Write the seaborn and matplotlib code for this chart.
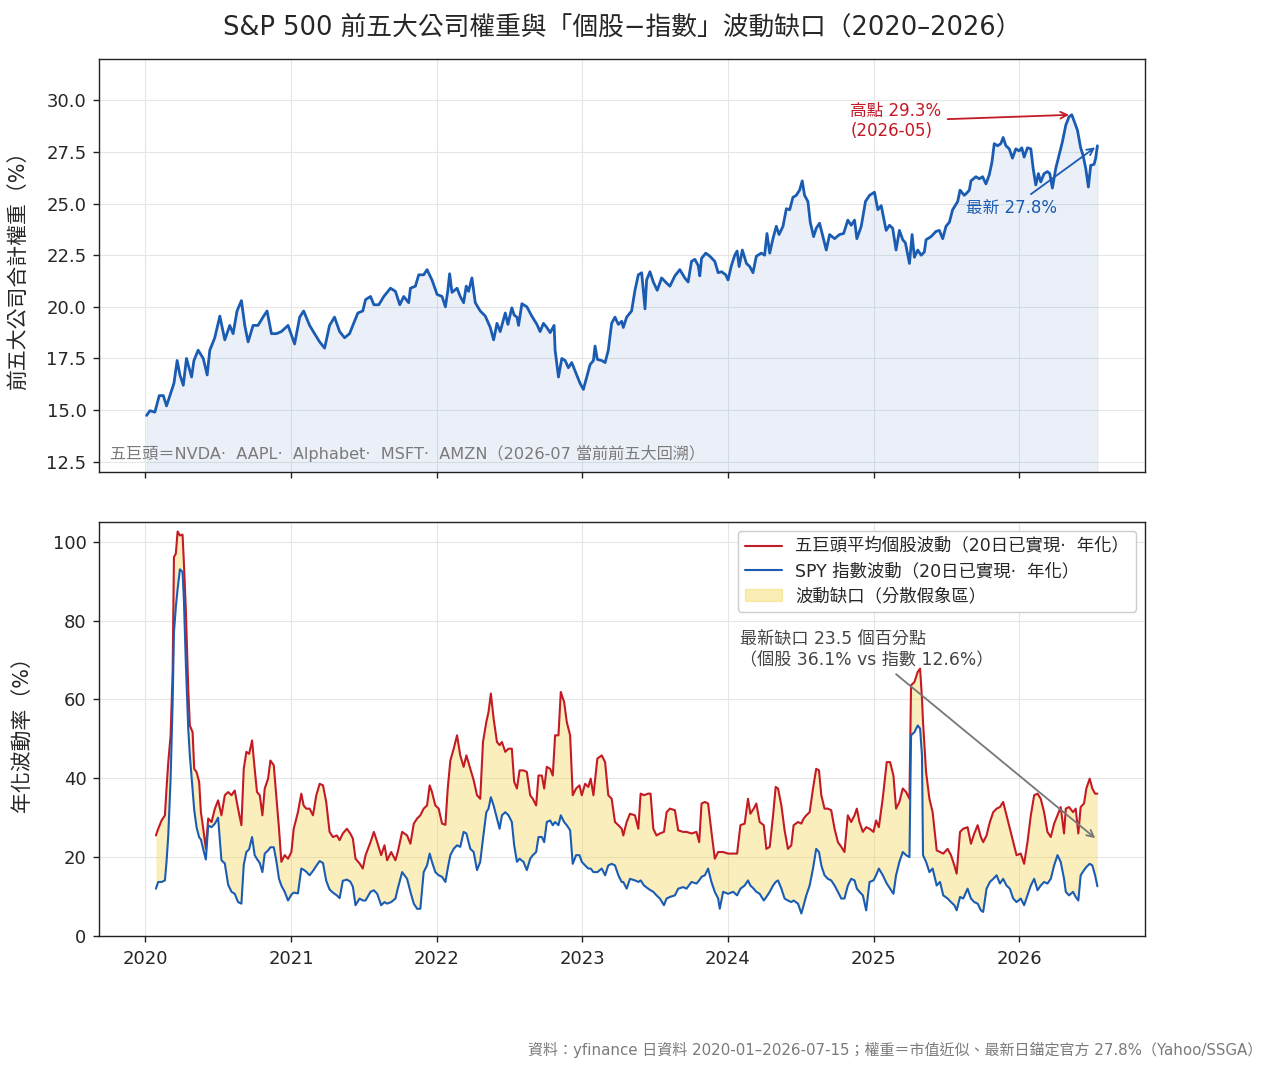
import numpy as np
import pandas as pd
import matplotlib
matplotlib.use("Agg")
import matplotlib.pyplot as plt
import matplotlib.dates as mdates
from matplotlib.lines import Line2D
from matplotlib.patches import Patch
from matplotlib.ticker import FormatStrFormatter
import seaborn as sns

# ---------------- data ----------------
weight_year = [
    2020.011, 2020.034, 2020.068, 2020.098, 2020.126, 2020.148, 2020.176, 2020.199, 2020.221, 2020.240,
    2020.263, 2020.285, 2020.320, 2020.336, 2020.365, 2020.400, 2020.427, 2020.445, 2020.479, 2020.514,
    2020.548, 2020.582, 2020.605, 2020.632, 2020.662, 2020.685, 2020.708, 2020.742, 2020.776, 2020.810,
    2020.838, 2020.868, 2020.902, 2020.936, 2020.982, 2021.027, 2021.062, 2021.089, 2021.130, 2021.164,
    2021.199, 2021.233, 2021.267, 2021.301, 2021.336, 2021.370, 2021.404, 2021.438, 2021.461, 2021.495,
    2021.514, 2021.548, 2021.571, 2021.605, 2021.639, 2021.685, 2021.719, 2021.749, 2021.776, 2021.810,
    2021.822, 2021.856, 2021.879, 2021.913, 2021.936, 2021.970, 2022.005, 2022.039, 2022.062, 2022.078,
    2022.091, 2022.107, 2022.142, 2022.164, 2022.187, 2022.205, 2022.221, 2022.244, 2022.267, 2022.301,
    2022.336, 2022.370, 2022.393, 2022.416, 2022.438, 2022.473, 2022.491, 2022.518, 2022.534, 2022.553,
    2022.564, 2022.587, 2022.621, 2022.655, 2022.690, 2022.712, 2022.735, 2022.758, 2022.781, 2022.808,
    2022.815, 2022.838, 2022.861, 2022.884, 2022.906, 2022.929, 2022.963, 2022.986, 2023.009, 2023.032,
    2023.055, 2023.078, 2023.089, 2023.105, 2023.135, 2023.158, 2023.180, 2023.203, 2023.226, 2023.249,
    2023.272,
    2023.283, 2023.306, 2023.340, 2023.363, 2023.386, 2023.409, 2023.432, 2023.443, 2023.466, 2023.489,
    2023.516, 2023.546, 2023.580, 2023.603, 2023.637, 2023.671, 2023.705, 2023.728, 2023.751, 2023.774,
    2023.797, 2023.808, 2023.820, 2023.849, 2023.877, 2023.911, 2023.934, 2023.957, 2023.986, 2024.002,
    2024.025, 2024.048, 2024.064, 2024.078, 2024.100, 2024.128, 2024.151, 2024.173, 2024.196, 2024.231,
    2024.253, 2024.269, 2024.288, 2024.310, 2024.333, 2024.352, 2024.379, 2024.402, 2024.425, 2024.447,
    2024.470, 2024.493, 2024.511, 2024.527, 2024.550, 2024.566, 2024.589, 2024.607, 2024.630, 2024.653,
    2024.676, 2024.699, 2024.733, 2024.767, 2024.795, 2024.824, 2024.847, 2024.870, 2024.886, 2024.916,
    2024.945, 2024.973, 2025.007, 2025.030, 2025.053,
    2025.087, 2025.110, 2025.132, 2025.155, 2025.178, 2025.201, 2025.219, 2025.247, 2025.265, 2025.281,
    2025.304, 2025.327, 2025.349, 2025.361, 2025.395, 2025.429, 2025.452, 2025.475, 2025.498, 2025.521,
    2025.543, 2025.578, 2025.594, 2025.623, 2025.639, 2025.658, 2025.669, 2025.703, 2025.726, 2025.749,
    2025.772, 2025.795, 2025.813, 2025.829, 2025.852, 2025.874, 2025.890, 2025.909, 2025.932, 2025.954,
    2025.977, 2026.000, 2026.018, 2026.034, 2026.057, 2026.080, 2026.096, 2026.114, 2026.132, 2026.148,
    2026.171, 2026.194, 2026.210, 2026.228, 2026.251, 2026.274, 2026.297, 2026.320, 2026.342, 2026.361,
    2026.377, 2026.400, 2026.422, 2026.438, 2026.457, 2026.475, 2026.491, 2026.514, 2026.525, 2026.537,
]
weight_pct = [
    14.74, 14.97, 14.9, 15.7, 15.7, 15.2, 15.8, 16.3, 17.4, 16.7,
    16.2, 17.5, 16.6, 17.4, 17.9, 17.5, 16.7, 17.9, 18.5, 19.55,
    18.4, 19.1, 18.7, 19.8, 20.3, 19.1, 18.3, 19.1, 19.1, 19.5,
    19.8, 18.7, 18.7, 18.8, 19.1, 18.2, 19.5, 19.8, 19.1, 18.7,
    18.3, 18.0, 19.1, 19.5, 18.8, 18.5, 18.7, 19.3, 19.7, 19.8,
    20.35, 20.5, 20.1, 20.1, 20.5, 20.9, 20.75, 20.1, 20.5, 20.2,
    20.9, 21.0, 21.55, 21.55, 21.8, 21.3, 20.6, 20.5, 20.0, 20.75,
    21.6, 20.7, 20.9, 20.5, 20.2, 21.0, 20.75, 21.4, 20.2, 19.8,
    19.55, 19.0, 18.4, 19.2, 18.8, 19.7, 19.15, 19.95, 19.6, 19.5,
    19.1, 20.15, 20.0, 19.55, 19.15, 18.8, 19.2, 19.0, 18.75, 19.1,
    17.9, 16.6, 17.5, 17.4, 17.05, 17.3, 16.7, 16.3, 16.0, 16.6,
    17.2, 17.4, 18.1, 17.45, 17.4, 17.3, 17.9, 19.2, 19.5, 19.15,
    19.3,
    19.0, 19.5, 19.8, 20.8, 21.55, 21.65, 19.9, 21.3, 21.7, 21.2,
    20.8, 21.4, 21.15, 21.0, 21.5, 21.8, 21.4, 21.2, 22.2, 22.3,
    22.0, 21.5, 22.35, 22.6, 22.45, 22.2, 21.65, 21.7, 21.55, 21.3,
    22.0, 22.5, 22.7, 21.95, 22.75, 22.1, 21.95, 21.65, 22.45, 22.6,
    22.5, 23.55, 22.6, 23.3, 23.9, 23.5, 23.9, 24.75, 24.7, 25.3,
    25.4, 25.65, 26.1, 25.4, 25.1, 24.1, 23.4, 23.8, 24.05, 23.4,
    22.75, 23.5, 23.3, 23.5, 23.55, 24.2, 23.95, 24.2, 23.3, 23.9,
    25.1, 25.4, 25.55, 24.7, 24.9,
    23.7, 23.95, 23.8, 22.75, 23.7, 23.25, 23.1, 22.1, 23.5, 22.4,
    22.75, 22.5, 22.65, 23.25, 23.4, 23.65, 23.7, 23.3, 23.9, 24.1,
    24.7, 25.1, 25.65, 25.4, 25.5, 25.65, 26.1, 26.3, 26.2, 26.3,
    25.95, 26.4, 27.0, 27.9, 27.8, 27.9, 28.2, 27.8, 27.65, 27.2,
    27.65, 27.55, 27.7, 27.25, 27.7, 27.65, 26.7, 25.9, 26.45, 26.05,
    26.45, 26.55, 26.45, 25.75, 26.7, 27.35, 28.0, 28.8, 29.2, 29.3,
    29.0, 28.55, 27.7, 27.35, 26.7, 25.8, 26.85, 26.9, 27.2, 27.8,
]

vol_year = [
    2020.075, 2020.091, 2020.114, 2020.137, 2020.148, 2020.160, 2020.176, 2020.190, 2020.199, 2020.212,
    2020.224, 2020.240, 2020.258, 2020.267, 2020.281, 2020.297, 2020.308, 2020.327, 2020.338, 2020.354,
    2020.372, 2020.384, 2020.400, 2020.418, 2020.434, 2020.457, 2020.480, 2020.502, 2020.525, 2020.548,
    2020.571, 2020.594, 2020.616, 2020.639, 2020.662, 2020.678, 2020.696, 2020.715, 2020.735, 2020.753,
    2020.769, 2020.788, 2020.806, 2020.822, 2020.845, 2020.861, 2020.884, 2020.902, 2020.920, 2020.936,
    2020.959, 2020.982, 2021.005, 2021.021, 2021.050, 2021.073, 2021.089, 2021.107, 2021.130, 2021.153,
    2021.176, 2021.199, 2021.222, 2021.244, 2021.267, 2021.290, 2021.317, 2021.336, 2021.358, 2021.386,
    2021.409, 2021.427, 2021.445, 2021.473, 2021.495,
    2021.514, 2021.548, 2021.571, 2021.594, 2021.621, 2021.644, 2021.662, 2021.690, 2021.719, 2021.735,
    2021.765, 2021.799, 2021.822, 2021.845, 2021.868, 2021.890, 2021.913, 2021.936, 2021.954, 2021.970,
    2021.993, 2022.016, 2022.039, 2022.062, 2022.078, 2022.096, 2022.119, 2022.142, 2022.164, 2022.187,
    2022.206, 2022.233, 2022.256, 2022.279, 2022.301, 2022.320, 2022.343, 2022.358, 2022.374, 2022.393,
    2022.416, 2022.434, 2022.450, 2022.473, 2022.495, 2022.518, 2022.534, 2022.553, 2022.571, 2022.598,
    2022.621, 2022.644, 2022.662, 2022.685, 2022.701, 2022.724, 2022.740, 2022.758, 2022.781, 2022.799,
    2022.815, 2022.838, 2022.854, 2022.877, 2022.895, 2022.918, 2022.936, 2022.959, 2022.982, 2022.998,
    2023.021, 2023.043, 2023.059, 2023.078, 2023.105, 2023.135, 2023.158, 2023.180, 2023.203, 2023.226,
    2023.249, 2023.272,
    2023.283, 2023.306, 2023.329, 2023.363, 2023.386, 2023.402, 2023.425, 2023.454, 2023.470, 2023.489,
    2023.511, 2023.534, 2023.562, 2023.580, 2023.603, 2023.637, 2023.660, 2023.694, 2023.717, 2023.751,
    2023.785, 2023.804, 2023.820, 2023.843, 2023.865, 2023.888, 2023.911, 2023.934, 2023.945, 2023.968,
    2024.002, 2024.037, 2024.064, 2024.087, 2024.116, 2024.139, 2024.155, 2024.178, 2024.196, 2024.219,
    2024.247, 2024.265, 2024.288, 2024.311, 2024.329, 2024.345, 2024.368, 2024.390, 2024.413, 2024.436,
    2024.452, 2024.482, 2024.505, 2024.521, 2024.539, 2024.562, 2024.585, 2024.607, 2024.626, 2024.642,
    2024.664, 2024.687, 2024.710, 2024.733, 2024.756, 2024.779, 2024.801, 2024.824, 2024.847, 2024.870,
    2024.886, 2024.904, 2024.927, 2024.950, 2024.973, 2025.000, 2025.018, 2025.037,
    2025.064, 2025.091, 2025.114, 2025.137, 2025.155, 2025.178, 2025.201, 2025.224, 2025.247, 2025.258,
    2025.281, 2025.304, 2025.320, 2025.333, 2025.340, 2025.361, 2025.384, 2025.406, 2025.434, 2025.457,
    2025.479, 2025.509, 2025.532, 2025.555, 2025.571, 2025.594, 2025.616, 2025.646, 2025.669, 2025.692,
    2025.715, 2025.737, 2025.753, 2025.776, 2025.799, 2025.822, 2025.845, 2025.868, 2025.890, 2025.913,
    2025.936, 2025.959, 2025.982, 2026.011, 2026.034, 2026.057, 2026.080, 2026.103, 2026.126, 2026.148,
    2026.171, 2026.194, 2026.217, 2026.240, 2026.263, 2026.285, 2026.308, 2026.320, 2026.342, 2026.370,
    2026.388, 2026.406, 2026.422, 2026.445, 2026.461, 2026.484, 2026.502, 2026.521, 2026.537,
]
vol_stock = [
    25.5, 27.2, 29.3, 30.6, 37.4, 44.1, 50.9, 66.9, 96.1, 97.0,
    102.6, 101.6, 101.8, 94.8, 82.2, 62.7, 53.4, 51.7, 42.4, 41.6,
    39.1, 31.4, 27.2, 22.1, 29.8, 28.9, 32.3, 34.4, 30.6, 35.7,
    36.5, 35.7, 36.9, 32.3, 28.1, 42.4, 46.7, 46.2, 49.6, 42.4,
    36.5, 35.7, 30.6, 37.4, 39.9, 44.5, 43.3, 35.2, 27.2, 18.8,
    20.5, 19.6, 21.3, 27.2, 31.4, 36.1, 33.1, 32.3, 32.3, 30.6,
    35.7, 38.6, 38.2, 34.0, 26.4, 25.1, 25.5, 24.3, 26.0, 27.2,
    26.0, 24.7, 19.6, 18.4, 17.1,
    20.5, 23.8, 26.4, 23.8, 20.5, 23.0, 19.2, 21.3, 19.2, 21.3,
    26.4, 25.5, 23.4, 28.5, 29.8, 30.6, 32.3, 33.1, 38.2, 36.5,
    33.1, 32.3, 28.5, 28.2, 37.4, 44.5, 47.5, 50.9, 45.8, 42.9,
    45.8, 42.4, 39.5, 35.7, 34.8, 49.2, 54.3, 56.8, 61.5, 55.1,
    49.2, 48.4, 49.2, 46.7, 47.5, 47.5, 39.1, 37.4, 42.0, 42.0,
    41.6, 35.7, 34.8, 33.1, 40.7, 40.7, 37.4, 42.9, 42.4, 40.7,
    50.9, 50.9, 61.9, 59.3, 54.3, 50.9, 35.7, 37.4, 38.2, 35.7,
    38.6, 37.8, 39.9, 35.7, 45.0, 45.8, 44.1, 35.7, 34.8, 28.9,
    28.1, 27.2,
    25.5, 28.9, 31.0, 30.6, 27.2, 36.1, 35.7, 36.1, 36.1, 27.2,
    25.5, 26.0, 26.4, 31.4, 32.3, 31.9, 26.8, 26.4, 26.4, 26.0,
    26.4, 23.8, 33.6, 34.0, 33.6, 26.4, 19.6, 21.3, 21.3, 21.3,
    20.9, 20.9, 20.9, 28.1, 28.5, 34.8, 31.0, 32.3, 33.6, 28.9,
    28.1, 22.1, 22.6, 30.6, 37.8, 37.4, 33.1, 26.8, 22.1, 23.0,
    28.1, 28.9, 28.5, 29.8, 30.6, 31.4, 37.4, 42.4, 42.0, 35.7,
    32.3, 32.3, 31.9, 27.2, 23.8, 22.6, 21.3, 30.6, 28.9, 30.6,
    32.3, 28.9, 26.4, 27.6, 27.2, 26.4, 29.3, 27.6,
    35.0, 44.1, 44.1, 40.7, 32.3, 34.0, 37.4, 36.5, 34.8, 63.6,
    64.4, 67.0, 67.8, 60.2, 54.3, 41.6, 34.8, 31.4, 21.7, 21.3,
    20.9, 22.1, 20.5, 17.9, 15.8, 26.4, 27.2, 27.6, 23.4, 26.0,
    28.1, 25.1, 23.8, 25.5, 28.9, 31.4, 32.3, 32.7, 34.0, 30.6,
    27.2, 23.8, 20.5, 20.9, 18.3, 23.8, 30.6, 35.7, 36.1, 34.8,
    31.4, 26.4, 25.1, 28.5, 30.6, 32.7, 26.0, 32.3, 32.7, 31.4,
    32.3, 26.0, 32.7, 33.6, 37.4, 39.9, 37.4, 36.1, 36.1,
]
vol_index = [
    12.0, 13.7, 13.7, 14.1, 18.8, 25.5, 39.9, 59.3, 77.0, 83.5,
    88.0, 93.0, 92.3, 85.5, 68.6, 52.6, 45.8, 36.9, 32.0, 27.6,
    25.0, 24.5, 22.0, 19.4, 28.0, 27.6, 28.5, 30.0, 19.2, 18.4,
    13.0, 11.2, 10.7, 8.6, 8.2, 18.0, 21.3, 22.0, 25.1, 20.5,
    19.5, 18.5, 16.2, 20.9, 21.7, 22.5, 22.5, 19.0, 14.5, 12.8,
    11.2, 9.0, 10.5, 11.0, 10.8, 17.1, 16.8, 16.3, 15.4, 16.5,
    17.8, 19.0, 18.5, 14.0, 11.8, 11.0, 10.3, 9.6, 14.0, 14.3,
    13.8, 12.5, 7.8, 9.5, 9.0,
    9.0, 11.2, 11.6, 10.7, 7.8, 8.6, 8.2, 8.6, 9.5, 12.0,
    16.2, 14.5, 11.2, 8.2, 6.9, 6.9, 16.2, 17.9, 20.9, 18.8,
    16.2, 15.4, 15.0, 13.7, 17.1, 20.5, 22.1, 23.0, 22.6, 26.4,
    26.0, 22.1, 21.3, 16.7, 18.8, 24.7, 31.4, 32.3, 35.2, 33.1,
    29.8, 27.2, 30.6, 31.4, 30.6, 28.9, 23.0, 18.8, 19.6, 18.8,
    16.7, 19.6, 20.5, 21.3, 25.1, 25.1, 23.8, 28.9, 29.3, 28.1,
    28.9, 28.1, 30.6, 28.9, 28.1, 26.8, 18.3, 20.5, 20.5, 18.8,
    17.9, 17.1, 17.1, 16.2, 16.2, 17.1, 15.4, 17.9, 18.3, 17.9,
    15.4, 13.7,
    13.7, 12.0, 14.5, 14.1, 13.7, 14.1, 12.8, 12.0, 11.6, 11.2,
    10.3, 9.5, 7.8, 9.5, 9.9, 10.3, 12.0, 12.4, 12.0, 13.7,
    13.3, 14.1, 15.0, 15.4, 17.1, 13.7, 11.2, 9.5, 6.9, 11.2,
    10.7, 11.2, 10.3, 12.0, 12.8, 14.1, 12.8, 12.0, 11.2, 10.7,
    9.0, 9.9, 11.2, 12.8, 13.7, 14.1, 12.0, 9.5, 9.0, 8.6,
    9.0, 8.2, 5.7, 7.8, 10.3, 12.8, 17.1, 22.1, 21.3, 17.9,
    15.4, 14.5, 14.1, 12.8, 11.2, 9.5, 9.5, 12.8, 14.5, 14.1,
    12.0, 11.2, 10.3, 6.5, 13.7, 14.1, 15.4, 17.1,
    15.4, 13.3, 12.0, 10.7, 15.4, 18.8, 21.3, 20.5, 20.0, 50.9,
    51.7, 53.4, 52.6, 45.8, 20.5, 18.8, 16.2, 17.1, 12.8, 13.7,
    10.3, 9.5, 8.6, 7.8, 6.5, 9.9, 9.5, 12.0, 9.5, 8.6,
    8.2, 6.5, 6.1, 12.0, 13.7, 14.5, 15.4, 13.3, 14.5, 12.8,
    12.0, 9.5, 8.6, 9.5, 7.8, 10.3, 12.8, 14.5, 11.6, 12.8,
    13.7, 13.3, 14.5, 17.9, 20.5, 18.8, 14.5, 11.2, 10.3, 11.2,
    9.9, 9.0, 15.4, 16.7, 17.5, 18.3, 17.9, 15.4, 12.6,
]

title_text = "S&P 500 前五大公司權重與「個股−指數」波動缺口（2020–2026）"
note_text = "五巨頭＝NVDA·  AAPL·  Alphabet·  MSFT·  AMZN（2026-07 當前前五大回溯）"
footer_text = "資料：yfinance 日資料 2020-01–2026-07-15；權重＝市值近似、最新日錨定官方 27.8%（Yahoo/SSGA）"
legend_labels = ["五巨頭平均個股波動（20日已實現·  年化）",
                 "SPY 指數波動（20日已實現·  年化）",
                 "波動缺口（分散假象區）"]


def to_dates(years):
    y = np.asarray(years, dtype=float)
    return pd.Timestamp("2020-01-01") + pd.to_timedelta((y - 2020.0) * 365.25, unit="D")


wdf = pd.DataFrame({"date": to_dates(weight_year), "weight": weight_pct})
vdf = pd.DataFrame({"date": to_dates(vol_year), "stock": vol_stock, "index": vol_index})

# ---------------- style ----------------
sns.set_theme(style="ticks")
plt.rcParams["font.family"] = ["DejaVu Sans", "Noto Sans CJK TC"]
plt.rcParams["axes.unicode_minus"] = False

BLUE = "#1b5cb3"
RED = "#c41a25"
YELLOW = "#f2cc30"
GRID = "#e6e6e6"

fig = plt.figure(figsize=(12.81, 10.73), dpi=100)
ax1 = fig.add_axes([0.0773, 0.5601, 0.8165, 0.3849])
ax2 = fig.add_axes([0.0773, 0.1277, 0.8165, 0.3858], sharex=ax1)

# ---------------- top panel ----------------
ax1.fill_between(wdf["date"], wdf["weight"], 12.0, color=BLUE, alpha=0.085, lw=0.8, zorder=1)
sns.lineplot(data=wdf, x="date", y="weight", ax=ax1, color=BLUE, lw=2.0, zorder=3)
ax1.set_ylim(12.0, 32.0)
ax1.set_yticks(np.arange(12.5, 30.01, 2.5))
ax1.yaxis.set_major_formatter(FormatStrFormatter("%.1f"))
ax1.set_ylabel("前五大公司合計權重（%）", fontsize=15)
ax1.yaxis.set_label_coords(-0.068, 0.5)
ax1.set_xlabel("")
ax1.tick_params(labelbottom=False)

imax = int(np.argmax(weight_pct))
ax1.annotate(f"高點 {weight_pct[imax]:.1f}%\n(2026-05)",
             xy=(wdf["date"].iloc[imax], weight_pct[imax]),
             xytext=(to_dates([2024.842])[0], 29.0),
             color=RED, fontsize=12, ha="left", va="center",
             arrowprops=dict(arrowstyle="->", color=RED, lw=1.3))
ax1.annotate(f"最新 {weight_pct[-1]:.1f}%",
             xy=(wdf["date"].iloc[-1], weight_pct[-1]),
             xytext=(to_dates([2025.637])[0], 24.78),
             color=BLUE, fontsize=12, ha="left", va="center",
             arrowprops=dict(arrowstyle="->", color=BLUE, lw=1.3))
ax1.text(0.0105, 0.046, note_text, transform=ax1.transAxes, fontsize=11.6,
         color="#7a7a7a", ha="left", va="center")

# ---------------- bottom panel ----------------
ax2.fill_between(vdf["date"], vdf["stock"], vdf["index"], color=YELLOW, alpha=0.32, lw=0, zorder=1)
sns.lineplot(data=vdf, x="date", y="stock", ax=ax2, color=RED, lw=1.5, zorder=3)
sns.lineplot(data=vdf, x="date", y="index", ax=ax2, color=BLUE, lw=1.5, zorder=3)
ax2.set_ylim(0, 105)
ax2.set_yticks([0, 20, 40, 60, 80, 100])
ax2.set_ylabel("年化波動率（%）", fontsize=15)
ax2.yaxis.set_label_coords(-0.064, 0.5)
ax2.set_xlabel("")

gap = vol_stock[-1] - vol_index[-1]
ax2.annotate(f"最新缺口 {gap:.1f} 個百分點\n（個股 {vol_stock[-1]:.1f}% vs 指數 {vol_index[-1]:.1f}%）",
             xy=(vdf["date"].iloc[-1], (vol_stock[-1] + vol_index[-1]) / 2),
             xytext=(to_dates([2024.082])[0], 72.6),
             color="#444444", fontsize=12.3, ha="left", va="center",
             arrowprops=dict(arrowstyle="->", color="#777777", lw=1.3))

handles = [
    Line2D([0], [0], color=RED, lw=1.5),
    Line2D([0], [0], color=BLUE, lw=1.5),
    Patch(facecolor=YELLOW, alpha=0.35, edgecolor=YELLOW),
]
ax2.legend(handles, legend_labels, loc="upper right", fontsize=12.5, frameon=True,
           fancybox=True, framealpha=1.0, edgecolor="#cccccc",
           handlelength=2.1, labelspacing=0.38)

# ---------------- shared axis cosmetics ----------------
for ax in (ax1, ax2):
    ax.grid(True, color=GRID, lw=0.8)
    ax.set_axisbelow(True)
    ax.tick_params(labelsize=13, length=4, width=1, color="#222222")
    ax.tick_params(axis="y", pad=5)
    ax.tick_params(axis="x", pad=6)
    for s in ax.spines.values():
        s.set_color("#222222")
        s.set_linewidth(1.0)

ax2.xaxis.set_major_locator(mdates.YearLocator())
ax2.xaxis.set_major_formatter(mdates.DateFormatter("%Y"))

fig.text(0.4856, 0.9748, title_text, ha="center", va="center", fontsize=18.5)
fig.text(0.985, 0.0214, footer_text, ha="right", va="center", fontsize=10.8, color="#7a7a7a")

fig.savefig("out.png", dpi=100)
